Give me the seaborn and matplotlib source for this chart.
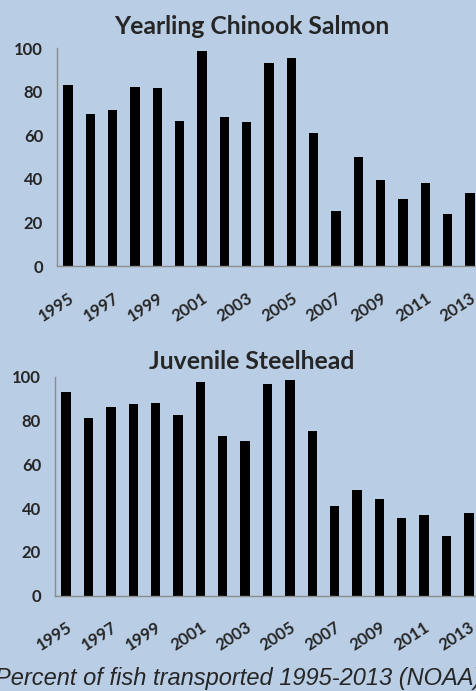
import pandas as pd
import seaborn as sns
import matplotlib.pyplot as plt

years = list(range(1995, 2014))
chinook = [83.2, 69.9, 71.5, 82.3, 81.7, 66.4, 98.5, 68.5, 66.0, 93.3,
           95.3, 61.2, 25.2, 49.9, 39.5, 30.7, 38.2, 23.8, 33.7]
steelhead = [93.0, 81.1, 86.0, 87.7, 88.0, 82.5, 97.7, 72.8, 70.8, 96.5,
             98.5, 75.2, 41.1, 48.4, 44.3, 35.6, 37.0, 27.4, 37.7]
year_labels = [str(y) if (y - 1995) % 2 == 0 else "" for y in years]

bg = "#B9CDE5"
sns.set_style("white")
plt.rcParams['font.family'] = ['Lato', 'DejaVu Sans']

fig = plt.figure(figsize=(4.77, 6.91), dpi=100)
fig.patch.set_facecolor(bg)

panels = [
    ("Yearling Chinook Salmon", chinook, [0.1195, 0.615, 0.889, 0.3155], 0.961),
    ("Juvenile Steelhead", steelhead, [0.1153, 0.138, 0.891, 0.317], 0.477),
]

for title, vals, pos, ty in panels:
    ax = fig.add_axes(pos)
    ax.set_facecolor(bg)
    df = pd.DataFrame({"year": [str(y) for y in years], "pct": vals})
    sns.barplot(data=df, x="year", y="pct", color="black", width=0.42,
                saturation=1, linewidth=0, ax=ax)
    ax.set_xlim(-0.5, len(years) - 0.5)
    ax.set_ylim(0, 100)
    ax.set_yticks([0, 20, 40, 60, 80, 100])
    ax.tick_params(axis="y", labelsize=12, length=4, pad=6, color="#8c8c8c", width=1)
    for lbl in ax.get_yticklabels():
        lbl.set_fontweight("bold")
    # tick marks between categories, labels at category centres
    ax.set_xticks([i - 0.5 for i in range(len(years))], minor=False)
    ax.set_xticklabels([])
    ax.set_xticks(range(len(years)), minor=True)
    ax.set_xticklabels(year_labels, minor=True, rotation=33, ha="right",
                       rotation_mode="anchor", fontsize=12, fontweight="bold")
    ax.tick_params(axis="x", which="major", length=5, color="#8c8c8c", width=1)
    ax.tick_params(axis="x", which="minor", length=0, pad=17)
    ax.set_xlabel("")
    ax.set_ylabel("")
    for side in ["top", "right"]:
        ax.spines[side].set_visible(False)
    for side in ["left", "bottom"]:
        ax.spines[side].set_color("#8c8c8c")
        ax.spines[side].set_linewidth(1)
    fig.text(0.528, ty, title, ha="center", va="center", fontsize=17.8,
             fontweight="bold")

fig.text(0.5, 0.018, "Percent of fish transported 1995-2013 (NOAA)",
         ha="center", va="center", fontsize=17, style="italic",
         family=["Liberation Sans", "DejaVu Sans"])

fig.savefig("out.png", dpi=100, facecolor=bg)
